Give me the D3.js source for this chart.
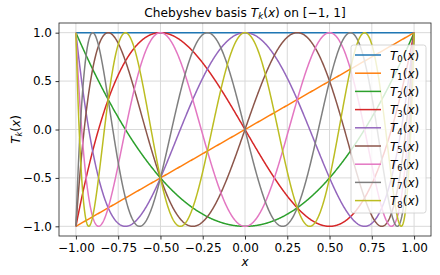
<!DOCTYPE html>
<html>
<head>
<meta charset="utf-8">
<script src="https://cdn.jsdelivr.net/npm/d3@7"></script>
<style>
  body { margin: 0; background: #fff; }
  text { font-family: "DejaVu Sans", sans-serif; }
</style>
</head>
<body>
<div id="chart"></div>
<script>
// Chebyshev degrees shown, and the tick labels
const degrees = [0, 1, 2, 3, 4, 5, 6, 7, 8];
const xTicks = [-1.0, -0.75, -0.5, -0.25, 0.0, 0.25, 0.5, 0.75, 1.0];
const yTicks = [-1.0, -0.5, 0.0, 0.5, 1.0];
const colors = ["#1f77b4", "#ff7f0e", "#2ca02c", "#d62728", "#9467bd",
                "#8c564b", "#e377c2", "#7f7f7f", "#bcbd22"];

const W = 440, H = 275;
const margin = {top: 23, right: 9, bottom: 39, left: 59},
    width = W - margin.left - margin.right,
    height = H - margin.top - margin.bottom;
const FS = 12;

const fmt = v => (v < 0 ? "\u2212" : "") + Math.abs(v).toFixed(2);
const fmt1 = v => (v < 0 ? "\u2212" : "") + Math.abs(v).toFixed(1);

const x = d3.scaleLinear().domain([-1.1, 1.1]).range([0, width]);
const y = d3.scaleLinear().domain([-1.1, 1.1]).range([height, 0]);

const svg = d3.select("#chart").append("svg")
    .attr("width", W)
    .attr("height", H);

const g = svg.append("g")
    .attr("transform", "translate(" + margin.left + "," + margin.top + ")");

// grid
g.append("g").selectAll("line").data(xTicks).join("line")
    .attr("x1", d => x(d)).attr("x2", d => x(d))
    .attr("y1", 0).attr("y2", height)
    .attr("stroke", "#d9d9d9").attr("stroke-width", 1);
g.append("g").selectAll("line").data(yTicks).join("line")
    .attr("y1", d => y(d)).attr("y2", d => y(d))
    .attr("x1", 0).attr("x2", width)
    .attr("stroke", "#d9d9d9").attr("stroke-width", 1);

// curves
const xs = d3.range(0, 801).map(i => -1 + i * 2 / 800);
const T = (k, t) => Math.cos(k * Math.acos(Math.max(-1, Math.min(1, t))));
const line = d3.line().x(d => x(d[0])).y(d => y(d[1]));

g.append("g").selectAll("path").data(degrees).join("path")
    .attr("fill", "none")
    .attr("stroke", (d, i) => colors[i])
    .attr("stroke-width", 1.5)
    .attr("d", k => line(xs.map(t => [t, T(k, t)])));

// axes
const xAxis = g.append("g")
    .attr("transform", "translate(0," + height + ")")
    .call(d3.axisBottom(x).tickValues(xTicks).tickFormat(fmt).tickSizeOuter(0).tickSize(3.5).tickPadding(3.5));
const yAxis = g.append("g")
    .call(d3.axisLeft(y).tickValues(yTicks).tickFormat(fmt1).tickSizeOuter(0).tickSize(3.5).tickPadding(3.5));
[xAxis, yAxis].forEach(a => {
  a.select(".domain").remove();
  a.selectAll("text").attr("font-size", FS).attr("fill", "#000")
    .attr("font-family", "DejaVu Sans, sans-serif");
  a.selectAll("line").attr("stroke", "#000").attr("stroke-width", 0.8);
});

g.append("rect")
    .attr("width", width).attr("height", height)
    .attr("fill", "none").attr("stroke", "#222").attr("stroke-width", 0.8);

// math label helper: T_sub(x)
function mathLabel(sel, sub, size) {
  sel.attr("font-size", size);
  sel.append("tspan").attr("font-style", "italic").text("T");
  sel.append("tspan").attr("font-size", size * 0.7).attr("dy", size * 0.2)
     .attr("font-style", sub === "k" ? "italic" : "normal").text(sub);
  sel.append("tspan").attr("dy", -size * 0.2).text("(");
  sel.append("tspan").attr("font-style", "italic").text("x");
  sel.append("tspan").text(")");
}

// title
const title = svg.append("text")
    .attr("x", margin.left + width / 2).attr("y", 17)
    .attr("text-anchor", "middle").attr("font-size", 12.2);
title.append("tspan").text("Chebyshev basis ");
title.append("tspan").attr("font-style", "italic").text("T");
title.append("tspan").attr("font-size", 8.5).attr("dy", 2.4).attr("font-style", "italic").text("k");
title.append("tspan").attr("dy", -2.4).text("(");
title.append("tspan").attr("font-style", "italic").text("x");
title.append("tspan").text(") on [\u22121, 1]");

// axis labels
svg.append("text")
    .attr("x", margin.left + width / 2).attr("y", 266)
    .attr("text-anchor", "middle").attr("font-size", FS)
    .attr("font-style", "italic").text("x");
const yl = svg.append("text")
    .attr("transform", "translate(20," + (margin.top + height / 2) + ") rotate(-90)")
    .attr("text-anchor", "middle");
mathLabel(yl, "k", FS);

// legend
const lg = svg.append("g").attr("transform", "translate(351,45)");
lg.append("rect")
    .attr("width", 75).attr("height", 168).attr("rx", 2.5)
    .attr("fill", "#fff").attr("fill-opacity", 0.8)
    .attr("stroke", "#ccc").attr("stroke-width", 0.8);
const items = lg.selectAll("g.item").data(degrees).join("g")
    .attr("class", "item")
    .attr("transform", (d, i) => "translate(0," + (10 + i * 18.2) + ")");
items.append("line")
    .attr("x1", 4).attr("x2", 30)
    .attr("stroke", (d, i) => colors[i]).attr("stroke-width", 1.5);
items.append("text")
    .attr("x", 39).attr("y", 4.5)
    .each(function(k) { mathLabel(d3.select(this), String(k), FS); });
</script>
</body>
</html>
